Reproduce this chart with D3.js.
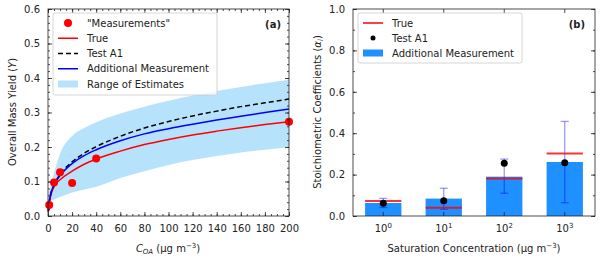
<!DOCTYPE html>
<html>
<head>
<meta charset="utf-8">
<script src="https://cdn.jsdelivr.net/npm/d3@7"></script>
<style>
  body { margin: 0; background: #fff; }
  text { font-family: "DejaVu Sans", sans-serif; }
</style>
</head>
<body>
<div id="chart"></div>
<script>
// panel (a) data
var measC = [1, 5, 10, 20, 40, 200];
var measY = [0.032, 0.097, 0.127, 0.096, 0.167, 0.273];

var curveC    = [0.3, 1, 2, 5, 10, 20, 30, 40, 60, 80, 100, 120, 140, 160, 180, 200];
var trueY     = [0.012, 0.035, 0.055, 0.085, 0.105, 0.130, 0.150, 0.165, 0.188, 0.207, 0.222, 0.235, 0.246, 0.256, 0.265, 0.273];
var testA1Y   = [0.014, 0.040, 0.060, 0.090, 0.120, 0.157, 0.182, 0.201, 0.231, 0.255, 0.274, 0.290, 0.304, 0.317, 0.328, 0.339];
var addMeasY  = [0.014, 0.040, 0.060, 0.090, 0.117, 0.152, 0.175, 0.192, 0.218, 0.238, 0.253, 0.266, 0.278, 0.289, 0.300, 0.310];
var bandTop   = [0.055, 0.070, 0.085, 0.125, 0.180, 0.232, 0.255, 0.272, 0.297, 0.317, 0.334, 0.349, 0.362, 0.374, 0.385, 0.395];
var bandLow   = [0.040, 0.042, 0.044, 0.048, 0.055, 0.068, 0.077, 0.085, 0.110, 0.130, 0.148, 0.162, 0.174, 0.184, 0.192, 0.199];

var xTicksA = [0, 20, 40, 60, 80, 100, 120, 140, 160, 180, 200];
var yTicksA = [0.0, 0.1, 0.2, 0.3, 0.4, 0.5, 0.6];

// panel (b) data
var binExp   = [0, 1, 2, 3];
var alphaTrue = [0.072, 0.040, 0.181, 0.302];
var alphaTest = [0.061, 0.074, 0.255, 0.257];
var alphaAdd  = [0.063, 0.084, 0.190, 0.261];
var errLow    = [0.041, 0.032, 0.110, 0.064];
var errHigh   = [0.085, 0.134, 0.275, 0.457];
var yTicksB = [0.0, 0.2, 0.4, 0.6, 0.8, 1.0];

var w = 600, h = 259;
var svg = d3.select("#chart").append("svg")
  .attr("width", w)
  .attr("height", h);

var fmt = d3.format(".1f");

// ---------- panel (a) ----------
var xA = d3.scaleLinear().domain([0, 200]).range([48, 289]);
var yA = d3.scaleLinear().domain([0, 0.6]).range([216, 9]);

var gA = svg.append("g");

gA.append("path")
  .datum(curveC)
  .attr("fill", "#87cefa")
  .attr("fill-opacity", 0.6)
  .attr("d", d3.area()
    .x(function(d) { return xA(d); })
    .y0(function(d, i) { return yA(bandLow[i]); })
    .y1(function(d, i) { return yA(bandTop[i]); })
    .curve(d3.curveMonotoneX));

function drawLine(vals, color, dash) {
  gA.append("path")
    .datum(curveC)
    .attr("fill", "none")
    .attr("stroke", color)
    .attr("stroke-width", 1.5)
    .attr("stroke-dasharray", dash)
    .attr("d", d3.line()
      .x(function(d) { return xA(d); })
      .y(function(d, i) { return yA(vals[i]); })
      .curve(d3.curveMonotoneX));
}
drawLine(trueY, "red", null);
drawLine(testA1Y, "black", "5,3");
drawLine(addMeasY, "blue", null);

gA.selectAll("circle.meas")
  .data(measC)
  .enter()
  .append("circle")
  .attr("class", "meas")
  .attr("cx", function(d) { return xA(d); })
  .attr("cy", function(d, i) { return yA(measY[i]); })
  .attr("r", 4)
  .attr("fill", "red");

// frame + ticks (inward, all sides)
function frameAxes(g, x, y, xTicks, xMinor, yTicks, yMinor, xFmt) {
  var x0 = x.range()[0], x1 = x.range()[1];
  var y0 = y.range()[0], y1 = y.range()[1];
  g.append("g").attr("transform", "translate(0," + y0 + ")")
    .call(d3.axisBottom(x).tickValues(xMinor).tickSize(-2).tickFormat(""));
  g.append("g").attr("transform", "translate(0," + y1 + ")")
    .call(d3.axisTop(x).tickValues(xMinor).tickSize(-2).tickFormat(""));
  g.append("g").attr("transform", "translate(" + x0 + ",0)")
    .call(d3.axisLeft(y).tickValues(yMinor).tickSize(-2).tickFormat(""));
  g.append("g").attr("transform", "translate(" + x1 + ",0)")
    .call(d3.axisRight(y).tickValues(yMinor).tickSize(-2).tickFormat(""));

  var bx = g.append("g").attr("transform", "translate(0," + y0 + ")")
    .call(d3.axisBottom(x).tickValues(xTicks).tickSize(-4).tickPadding(9).tickFormat(xFmt));
  g.append("g").attr("transform", "translate(0," + y1 + ")")
    .call(d3.axisTop(x).tickValues(xTicks).tickSize(-4).tickFormat(""));
  g.append("g").attr("transform", "translate(" + x0 + ",0)")
    .call(d3.axisLeft(y).tickValues(yTicks).tickSize(-4).tickPadding(8).tickFormat(fmt));
  g.append("g").attr("transform", "translate(" + x1 + ",0)")
    .call(d3.axisRight(y).tickValues(yTicks).tickSize(-4).tickFormat(""));

  g.selectAll(".domain").remove();
  g.selectAll(".tick line").attr("stroke", "#222").attr("stroke-width", 0.8);
  g.selectAll(".tick text").attr("font-size", 10).attr("fill", "#222")
    .style("font-family", "DejaVu Sans");
  g.append("rect")
    .attr("x", x0).attr("y", y1)
    .attr("width", x1 - x0).attr("height", y0 - y1)
    .attr("fill", "none").attr("stroke", "#222").attr("stroke-width", 0.8);
  return bx;
}

frameAxes(gA, xA, yA, xTicksA, d3.range(0, 201, 5), yTicksA, d3.range(0, 0.601, 0.02),
  function(d) { return d; });

// labels (a)
gA.append("text")
  .attr("transform", "translate(16,112) rotate(-90)")
  .attr("text-anchor", "middle")
  .attr("font-size", 10).attr("fill", "#222")
  .html('Overall Mass Yield (<tspan font-style="italic">Y</tspan>)');

var xlabA = gA.append("text")
  .attr("x", 168).attr("y", 252)
  .attr("text-anchor", "middle")
  .attr("font-size", 10).attr("fill", "#222");
xlabA.append("tspan").attr("font-style", "italic").text("C");
xlabA.append("tspan").attr("font-style", "italic").attr("font-size", 7).attr("dy", 2).text("OA");
xlabA.append("tspan").attr("dy", -2).text(" (μg m");
xlabA.append("tspan").attr("font-size", 7).attr("dy", -4).text("−3");
xlabA.append("tspan").attr("dy", 4).text(")");

gA.append("text")
  .attr("x", 281).attr("y", 28)
  .attr("text-anchor", "end")
  .attr("font-size", 10).attr("font-weight", "bold").attr("fill", "#222")
  .text("(a)");

// legend (a)
var legA = gA.append("g");
legA.append("rect")
  .attr("x", 53).attr("y", 13).attr("width", 164).attr("height", 82).attr("rx", 2)
  .attr("fill", "white").attr("fill-opacity", 0.8)
  .attr("stroke", "#ccc").attr("stroke-width", 0.8);
var legItemsA = ["\"Measurements\"", "True", "Test A1", "Additional Measurement", "Range of Estimates"];
var legRowA = d3.scalePoint().domain(legItemsA).range([23, 84]);
legItemsA.forEach(function(name, i) {
  var yy = legRowA(name);
  if (i == 0) {
    legA.append("circle").attr("cx", 68).attr("cy", yy).attr("r", 4).attr("fill", "red");
  } else if (i == 4) {
    legA.append("rect").attr("x", 58).attr("y", yy - 3.5).attr("width", 20).attr("height", 7)
      .attr("fill", "#87cefa").attr("fill-opacity", 0.6);
  } else {
    var col = i == 1 ? "red" : (i == 2 ? "black" : "blue");
    legA.append("line").attr("x1", 58).attr("x2", 78).attr("y1", yy).attr("y2", yy)
      .attr("stroke", col).attr("stroke-width", 1.5)
      .attr("stroke-dasharray", i == 2 ? "5,3" : null);
  }
  legA.append("text").attr("x", 87).attr("y", yy + 3.6)
    .attr("font-size", 10).attr("fill", "#222").text(name);
});

// ---------- panel (b) ----------
var xB = d3.scaleBand().domain(binExp).range([353, 595]).paddingInner(0.4).paddingOuter(0.2);
var yB = d3.scaleLinear().domain([0, 1]).range([216, 9]);
var gB = svg.append("g");

gB.selectAll("rect.bar")
  .data(binExp)
  .enter()
  .append("rect")
  .attr("class", "bar")
  .attr("x", function(d) { return xB(d); })
  .attr("y", function(d, i) { return yB(alphaAdd[i]); })
  .attr("width", xB.bandwidth())
  .attr("height", function(d, i) { return yB(0) - yB(alphaAdd[i]); })
  .attr("fill", "#1e90ff");

// error bars
var eb = gB.selectAll("g.err")
  .data(binExp)
  .enter()
  .append("g")
  .attr("class", "err")
  .attr("stroke", "blue")
  .attr("stroke-opacity", 0.4)
  .attr("stroke-width", 1.3);
eb.append("line")
  .attr("x1", function(d) { return xB(d) + xB.bandwidth() / 2; })
  .attr("x2", function(d) { return xB(d) + xB.bandwidth() / 2; })
  .attr("y1", function(d, i) { return yB(errLow[i]); })
  .attr("y2", function(d, i) { return yB(errHigh[i]); });
[errLow, errHigh].forEach(function(arr) {
  eb.append("line")
    .attr("x1", function(d) { return xB(d) + xB.bandwidth() / 2 - 4; })
    .attr("x2", function(d) { return xB(d) + xB.bandwidth() / 2 + 4; })
    .attr("y1", function(d, i) { return yB(arr[i]); })
    .attr("y2", function(d, i) { return yB(arr[i]); });
});

gB.selectAll("line.truth")
  .data(binExp)
  .enter()
  .append("line")
  .attr("class", "truth")
  .attr("x1", function(d) { return xB(d); })
  .attr("x2", function(d) { return xB(d) + xB.bandwidth(); })
  .attr("y1", function(d, i) { return yB(alphaTrue[i]); })
  .attr("y2", function(d, i) { return yB(alphaTrue[i]); })
  .attr("stroke", "red")
  .attr("stroke-opacity", 0.8)
  .attr("stroke-width", 2);

gB.selectAll("circle.test")
  .data(binExp)
  .enter()
  .append("circle")
  .attr("class", "test")
  .attr("cx", function(d) { return xB(d) + xB.bandwidth() / 2; })
  .attr("cy", function(d, i) { return yB(alphaTest[i]); })
  .attr("r", 3.5)
  .attr("fill", "black");

// band axis ticks sit at centers already
var bx = frameAxes(gB, xB, yB, binExp, [], yTicksB, d3.range(0, 1.001, 0.1), function(d) { return "10"; });
bx.selectAll(".tick text").each(function(d) {
  d3.select(this).append("tspan").attr("font-size", 7).attr("dy", -4).text(d);
});

gB.append("text")
  .attr("transform", "translate(321,112) rotate(-90)")
  .attr("text-anchor", "middle")
  .attr("font-size", 10).attr("fill", "#222")
  .html('Stoichiometric Coefficients (<tspan font-style="italic">α</tspan><tspan font-style="italic" font-size="7" dy="2">i</tspan><tspan dy="-2">)</tspan>');

var xlabB = gB.append("text")
  .attr("x", 474).attr("y", 252)
  .attr("text-anchor", "middle")
  .attr("font-size", 10).attr("fill", "#222");
xlabB.append("tspan").text("Saturation Concentration (μg m");
xlabB.append("tspan").attr("font-size", 7).attr("dy", -4).text("−3");
xlabB.append("tspan").attr("dy", 4).text(")");

gB.append("text")
  .attr("x", 585).attr("y", 28)
  .attr("text-anchor", "end")
  .attr("font-size", 10).attr("font-weight", "bold").attr("fill", "#222")
  .text("(b)");

// legend (b)
var legB = gB.append("g");
legB.append("rect")
  .attr("x", 358).attr("y", 13).attr("width", 164).attr("height", 50).attr("rx", 2)
  .attr("fill", "white").attr("fill-opacity", 0.8)
  .attr("stroke", "#ccc").attr("stroke-width", 0.8);
var legItemsB = ["True", "Test A1", "Additional Measurement"];
var legRowB = d3.scalePoint().domain(legItemsB).range([23, 53]);
legItemsB.forEach(function(name, i) {
  var yy = legRowB(name);
  if (i == 0) {
    legB.append("line").attr("x1", 363).attr("x2", 383).attr("y1", yy).attr("y2", yy)
      .attr("stroke", "red").attr("stroke-width", 1.5);
  } else if (i == 1) {
    legB.append("circle").attr("cx", 373).attr("cy", yy).attr("r", 2.5).attr("fill", "black");
  } else {
    legB.append("rect").attr("x", 363).attr("y", yy - 3.5).attr("width", 20).attr("height", 7)
      .attr("fill", "#1e90ff");
  }
  legB.append("text").attr("x", 392).attr("y", yy + 3.6)
    .attr("font-size", 10).attr("fill", "#222").text(name);
});
</script>
</body>
</html>
